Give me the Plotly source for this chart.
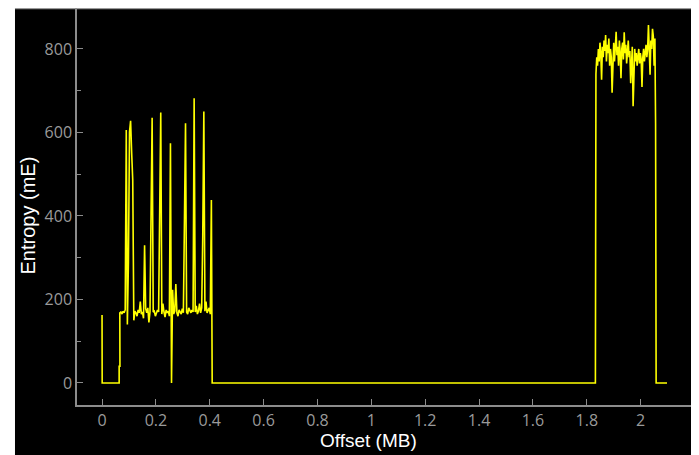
import plotly.graph_objects as go

# --- data (offset in MB, entropy in mE) ---
lead_offset = [0.0, 0.0005, 0.0635, 0.0635, 0.0665]
lead_entropy = [163, 0, 0, 40, 40]

# region A: code/data section, sampled every 0.004 MB starting at 0.066 MB
regionA_start = 0.066
regionA_step = 0.004
regionA_entropy = [
    168, 170, 165, 172, 168, 175, 606, 140, 290, 601,
    628, 551, 486, 150, 172, 168, 160, 175, 168, 195,
    165, 170, 155, 330, 178, 168, 180, 145, 170, 405,
    635, 170, 172, 160, 168, 175, 170, 413, 648, 165,
    190, 170, 158, 175, 168, 172, 160, 574, 0, 223,
    165, 172, 237, 168, 160, 175, 170, 165, 178, 168,
    390, 622, 170, 165, 180, 172, 168, 175, 170, 682,
    170, 185, 165, 172, 190, 168, 180, 354, 650, 172,
    195, 168, 175, 180, 165, 438,
]

gap_offset = [0.409, 1.832]
gap_entropy = [0, 0]

# region B: compressed/encrypted block, sampled every 0.003 MB starting at 1.834 MB
regionB_start = 1.834
regionB_step = 0.003
regionB_entropy = [
    740, 780, 760, 800, 770, 815, 790, 726, 805, 780,
    820, 795, 833, 770, 810, 790, 825, 760, 800, 780,
    695, 790, 815, 770, 800, 841, 785, 805, 760, 820,
    790, 730, 800, 815, 775, 840, 790, 810, 765, 800,
    820, 780, 795, 718, 790, 805, 663, 780, 800, 770,
    790, 760, 785, 800, 765, 790, 775, 709, 780, 800,
    770, 790, 810, 780, 800, 857, 790, 738, 820, 800,
    848, 830, 760, 825,
]

tail_offset = [2.0555, 2.056, 2.0565, 2.057, 2.0575, 2.098]
tail_entropy = [622, 300, 600, 300, 0, 0]

x_ticks = [0, 0.2, 0.4, 0.6, 0.8, 1, 1.2, 1.4, 1.6, 1.8, 2]
x_ticklabels = ["0", "0.2", "0.4", "0.6", "0.8", "1", "1.2", "1.4", "1.6", "1.8", "2"]
y_ticks = [0, 200, 400, 600, 800]

# --- assemble series ---
regionA_offset = [regionA_start + regionA_step * i for i in range(len(regionA_entropy))]
regionB_offset = [regionB_start + regionB_step * i for i in range(len(regionB_entropy))]
offset = lead_offset + regionA_offset + gap_offset + regionB_offset + tail_offset
entropy = lead_entropy + regionA_entropy + gap_entropy + regionB_entropy + tail_entropy

fig = go.Figure()
fig.add_trace(go.Scatter(
    x=offset, y=entropy, mode="lines",
    line=dict(color="#ffff00", width=1.6),
    hoverinfo="skip", showlegend=False,
))

axis_color = "#8c8c8c"
tick_font = dict(family="Open Sans, sans-serif", size=16, color="#9a9a9a")

fig.update_layout(
    width=691, height=447,
    margin=dict(l=69, r=8, t=0, b=50),
    paper_bgcolor="white",
    plot_bgcolor="black",
    showlegend=False,
    xaxis=dict(
        range=[-0.093, 2.187],
        tickmode="array", tickvals=x_ticks, ticktext=x_ticklabels,
        ticks="inside", ticklen=6, tickwidth=1, tickcolor=axis_color,
        showline=True, linecolor=axis_color, linewidth=1.5,
        showgrid=False, zeroline=False,
        tickfont=tick_font,
    ),
    yaxis=dict(
        range=[-52.7, 898],
        tickmode="array", tickvals=y_ticks,
        ticks="inside", ticklen=6, tickwidth=1, tickcolor=axis_color,
        minor=dict(ticks="inside", ticklen=4, tickcolor=axis_color, dtick=100, tick0=0),
        showline=True, linecolor=axis_color, linewidth=1.5,
        showgrid=False, zeroline=False,
        tickfont=tick_font,
    ),
    shapes=[
        dict(type="rect", xref="paper", yref="paper",
             x0=-0.101, x1=1.0016, y0=-0.2, y1=1.0,
             fillcolor="black", line=dict(width=0), layer="below"),
        dict(type="line", xref="paper", yref="paper",
             x0=-0.101, x1=1.0016, y0=0.999, y1=0.999,
             line=dict(color="#9a9a9a", width=1.5), layer="below"),
    ],
    annotations=[
        dict(text="Offset (MB)", xref="paper", yref="paper",
             x=(360 - 69) / 614, y=-(432 - 397) / 397,
             xanchor="center", yanchor="middle", showarrow=False,
             font=dict(family="Liberation Sans, Arial, sans-serif", size=19, color="white")),
        dict(text="Entropy (mE)", xref="paper", yref="paper",
             x=(19.5 - 69) / 614, y=(397 - 208) / 397,
             xanchor="center", yanchor="middle", showarrow=False, textangle=-90,
             font=dict(family="Liberation Sans, Arial, sans-serif", size=20, color="white")),
    ],
)

fig.write_html("out.html")
